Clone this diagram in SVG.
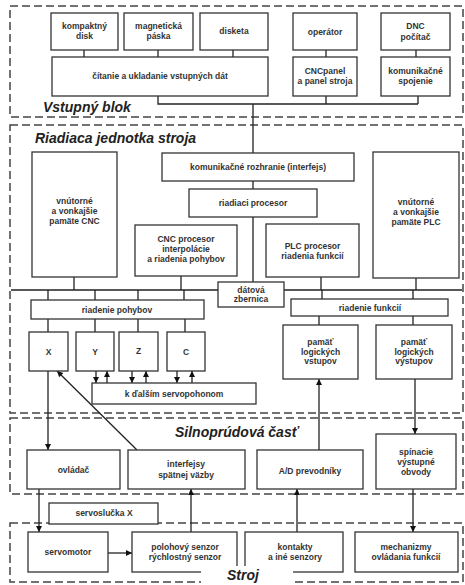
<svg xmlns="http://www.w3.org/2000/svg" width="465" height="585" viewBox="0 0 465 585">
<style>
.bg{fill:#fff}
.zone{fill:none;stroke:#444;stroke-width:1.5;stroke-dasharray:8 4}
.box{fill:#fff;stroke:#333;stroke-width:1.3}
.t{font-family:"Liberation Sans",Arial,sans-serif;font-weight:bold;font-size:8.5px;fill:#333;text-anchor:middle}
.lbl{font-family:"Liberation Sans",Arial,sans-serif;font-weight:bold;font-style:italic;font-size:14px;fill:#222}
.ln{fill:none;stroke:#222;stroke-width:1.3}
.ar{fill:none;stroke:#222;stroke-width:1.3;marker-end:url(#ah)}
</style>
<defs>
<marker id="ah" viewBox="0 0 10 10" refX="10" refY="5" markerWidth="7" markerHeight="6" orient="auto" markerUnits="userSpaceOnUse">
<path d="M0,0 L10,5 L0,10 z" fill="#111"/>
</marker>
</defs>
<rect class="bg" x="0" y="0" width="465" height="585"/>

<g id="zones">
<rect class="zone" x="10" y="6" width="453" height="111"/>
<rect class="zone" x="10" y="125" width="453" height="288"/>
<rect class="zone" x="10" y="418" width="453" height="76"/>
<rect class="zone" x="10" y="523" width="453" height="59"/>
<text class="lbl" x="43" y="112">Vstupný blok</text>
<text class="lbl" x="35" y="143">Riadiaca jednotka stroja</text>
<text class="lbl" x="175" y="437">Silnoprúdová časť</text>
</g>

<g id="connectors">
<path class="ln" d="M84 50V57M158 50V57M233 50V57M326 50V57M416 50V57"/>
<path class="ln" d="M158 96V104H418M326 96V104M418 96V104M253 104V153"/>
<path class="ln" d="M253 181V189M253 217V282"/>
<path class="ln" d="M11 290H218M284 290H462"/>
<path class="ln" d="M74 277V290M181 276V290M321 277V290M416 278V290"/>
<path class="ln" d="M48 290V300M95 290V300M138 290V300M184 290V300"/>
<path class="ln" d="M48 319V332M95 319V332M138 319V332M185 319V332"/>
<path class="ln" d="M322 290V299M413 290V299M319 316V325M413 316V325"/>
<path class="ar" d="M96 371V383"/>
<path class="ar" d="M107 383V371"/>
<path class="ar" d="M132 371V383"/>
<path class="ar" d="M146 383V371"/>
<path class="ar" d="M177 371V383"/>
<path class="ar" d="M192 383V371"/>
<path class="ar" d="M48 371V450"/>
<path class="ar" d="M137 450L57 371"/>
<path class="ar" d="M319 450V379"/>
<path class="ar" d="M415 379V434"/>
<path class="ar" d="M39 489V532"/>
<path class="ar" d="M108 553H132"/>
<path class="ar" d="M191 532V489"/>
<path class="ar" d="M297 532V489"/>
<path class="ar" d="M413 489V532"/>
</g>

<g id="kompaktny"><rect class="box" x="51" y="13" width="67" height="37"/><text class="t" x="84.5" y="29">kompaktný</text><text class="t" x="84.5" y="39">disk</text></g>
<g id="magneticka"><rect class="box" x="124" y="13" width="69" height="37"/><text class="t" x="158.5" y="29">magnetická</text><text class="t" x="158.5" y="39">páska</text></g>
<g id="disketa"><rect class="box" x="200" y="13" width="68" height="37"/><text class="t" x="234" y="34">disketa</text></g>
<g id="citanie"><rect class="box" x="52" y="57" width="216" height="39"/><text class="t" x="160" y="79">čítanie a ukladanie vstupných dát</text></g>
<g id="operator"><rect class="box" x="293" y="13" width="64" height="37"/><text class="t" x="325" y="35">operátor</text></g>
<g id="dnc"><rect class="box" x="381" y="13" width="69" height="37"/><text class="t" x="415.5" y="29">DNC</text><text class="t" x="415.5" y="40">počítač</text></g>
<g id="cncpanel"><rect class="box" x="293" y="57" width="64" height="39"/><text class="t" x="325" y="74">CNCpanel</text><text class="t" x="325" y="84">a panel stroja</text></g>
<g id="komspoj"><rect class="box" x="381" y="57" width="69" height="39"/><text class="t" x="415.5" y="74">komunikačné</text><text class="t" x="415.5" y="84">spojenie</text></g>

<g id="komroz"><rect class="box" x="162" y="153" width="192" height="28"/><text class="t" x="258" y="170">komunikačné rozhranie (interfejs)</text></g>
<g id="riadproc"><rect class="box" x="189" y="189" width="128" height="28"/><text class="t" x="253" y="206">riadiaci procesor</text></g>
<g id="pamcnc"><rect class="box" x="32" y="152" width="85" height="125"/><text class="t" x="74.5" y="204">vnútorné</text><text class="t" x="74.5" y="214">a vonkajšie</text><text class="t" x="74.5" y="224">pamäte CNC</text></g>
<g id="cncproc"><rect class="box" x="135" y="225" width="102" height="51"/><text class="t" x="186" y="242">CNC procesor</text><text class="t" x="186" y="252">interpolácie</text><text class="t" x="186" y="262">a riadenia pohybov</text></g>
<g id="plcproc"><rect class="box" x="266" y="224" width="93" height="53"/><text class="t" x="312.5" y="249">PLC procesor</text><text class="t" x="312.5" y="259">riadenia funkcií</text></g>
<g id="pamplc"><rect class="box" x="373" y="152" width="86" height="126"/><text class="t" x="416" y="205">vnútorné</text><text class="t" x="416" y="215">a vonkajšie</text><text class="t" x="416" y="225">pamäte PLC</text></g>
<g id="datova"><rect class="box" x="218" y="282" width="66" height="25"/><text class="t" x="251" y="293">dátová</text><text class="t" x="251" y="302">zbernica</text></g>
<g id="riadpoh"><rect class="box" x="31" y="300" width="173" height="19"/><text class="t" x="117" y="312.5">riadenie pohybov</text></g>
<g id="osX"><rect class="box" x="29" y="332" width="39" height="39"/><text class="t" x="48.5" y="355">X</text></g>
<g id="osY"><rect class="box" x="76" y="332" width="38" height="39"/><text class="t" x="95" y="355">Y</text></g>
<g id="osZ"><rect class="box" x="119" y="332" width="39" height="39"/><text class="t" x="138.5" y="354">Z</text></g>
<g id="osC"><rect class="box" x="167" y="332" width="38" height="39"/><text class="t" x="186" y="355">C</text></g>
<g id="kdalsim"><rect class="box" x="92" y="383" width="164" height="21"/><text class="t" x="174" y="397">k ďalším servopohonom</text></g>
<g id="riadfun"><rect class="box" x="291" y="299" width="157" height="17"/><text class="t" x="370" y="310.5">riadenie funkcií</text></g>
<g id="pamvst"><rect class="box" x="283" y="325" width="75" height="54"/><text class="t" x="320.5" y="345">pamäť</text><text class="t" x="320.5" y="355">logických</text><text class="t" x="320.5" y="364">vstupov</text></g>
<g id="pamvys"><rect class="box" x="376" y="325" width="76" height="54"/><text class="t" x="414" y="345">pamäť</text><text class="t" x="414" y="355">logických</text><text class="t" x="414" y="364">výstupov</text></g>

<g id="ovladac"><rect class="box" x="27" y="450" width="93" height="39"/><text class="t" x="73.5" y="473">ovládač</text></g>
<g id="interfejsy"><rect class="box" x="128" y="450" width="117" height="39"/><text class="t" x="186" y="467">interfejsy</text><text class="t" x="186" y="478">spätnej väzby</text></g>
<g id="ad"><rect class="box" x="257" y="450" width="106" height="39"/><text class="t" x="310" y="474">A/D prevodníky</text></g>
<g id="spinacie"><rect class="box" x="376" y="434" width="80" height="55"/><text class="t" x="416" y="455">spínacie</text><text class="t" x="416" y="465">výstupné</text><text class="t" x="416" y="475">obvody</text></g>

<g id="servoslucka"><rect class="box" x="49" y="503" width="109" height="21"/><text class="t" x="104" y="516">servoslučka X</text></g>

<g id="servomotor"><rect class="box" x="28" y="532" width="80" height="40"/><text class="t" x="68" y="555">servomotor</text></g>
<g id="polohovy"><rect class="box" x="132" y="532" width="105" height="40"/><text class="t" x="185" y="550">polohový senzor</text><text class="t" x="185" y="560">rýchlostný senzor</text></g>
<g id="kontakty"><rect class="box" x="245" y="532" width="98" height="40"/><text class="t" x="295" y="550">kontakty</text><text class="t" x="295" y="560">a iné senzory</text></g>
<g id="mechanizmy"><rect class="box" x="355" y="532" width="103" height="40"/><text class="t" x="406" y="550">mechanizmy</text><text class="t" x="406" y="560">ovládania funkcií</text></g>

<g id="strojLabel">
<rect class="bg" x="201" y="566" width="92" height="19"/>
<text class="lbl" x="227" y="580">Stroj</text>
</g>
</svg>
